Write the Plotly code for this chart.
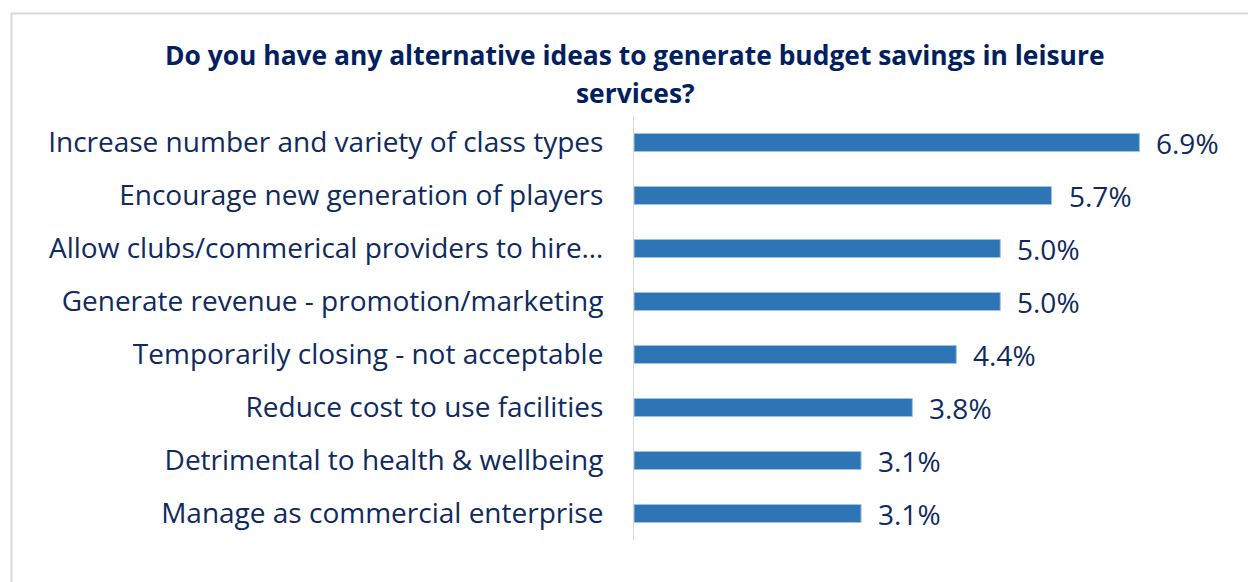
import plotly.graph_objects as go

# Survey responses: share of respondents suggesting each idea (%)
categories = [
    "Increase number and variety of class types",
    "Encourage new generation of players",
    "Allow clubs/commerical providers to hire…",
    "Generate revenue - promotion/marketing",
    "Temporarily closing - not acceptable",
    "Reduce cost to use facilities",
    "Detrimental to health & wellbeing",
    "Manage as commercial enterprise",
]
values = [6.9, 5.7, 5.0, 5.0, 4.4, 3.8, 3.1, 3.1]
value_labels = ["6.9%", "5.7%", "5.0%", "5.0%", "4.4%", "3.8%", "3.1%", "3.1%"]

title_lines = [
    "Do you have any alternative ideas to generate budget savings in leisure",
    "services?",
]

W, H = 1248, 582
ML, MR, MT, MB = 634, 28, 116, 42
TEXT = "#0f2a5e"
FONT = "Open Sans"
pw, ph = W - ML - MR, H - MT - MB

fig = go.Figure()
fig.add_trace(go.Bar(
    x=values,
    y=categories,
    orientation="h",
    width=0.34,
    marker=dict(color="#2E75B6", line=dict(color="#9DC3E6", width=1)),
    hoverinfo="skip",
))

# value labels just past the end of each bar
for cat, v, lab in zip(categories, values, value_labels):
    fig.add_annotation(
        x=v, y=cat, text=lab, showarrow=False,
        xanchor="left", yanchor="middle", xshift=15,
        font=dict(family=FONT, size=28, color=TEXT),
    )

# chart title, one annotation per line
for line, ypix in zip(title_lines, [55, 93]):
    fig.add_annotation(
        xref="paper", yref="paper",
        x=(635 - ML) / pw, y=(H - MB - ypix) / ph,
        text="<b>" + line + "</b>", showarrow=False,
        xanchor="center", yanchor="middle",
        font=dict(family=FONT, size=26.4, color="#002060"),
    )

# light grey frame around the chart
fig.add_shape(
    type="rect", xref="paper", yref="paper",
    x0=(11.5 - ML) / pw, x1=(1270 - ML) / pw,
    y0=(H - MB - 600) / ph, y1=(H - MB - 13.5) / ph,
    line=dict(color="#D9D9D9", width=2), fillcolor="rgba(0,0,0,0)",
    layer="below",
)

fig.update_layout(
    width=W, height=H,
    margin=dict(l=ML, r=MR, t=MT, b=MB, autoexpand=False),
    paper_bgcolor="white", plot_bgcolor="white",
    showlegend=False,
    xaxis=dict(range=[0, 8], visible=False, fixedrange=True),
    yaxis=dict(
        autorange="reversed",
        showline=True, linecolor="#D9D9D9", linewidth=1,
        showgrid=False, ticks="", ticklabelstandoff=24,
        tickfont=dict(family=FONT, size=28, color=TEXT),
        fixedrange=True,
    ),
)

fig.write_html("out.html")
